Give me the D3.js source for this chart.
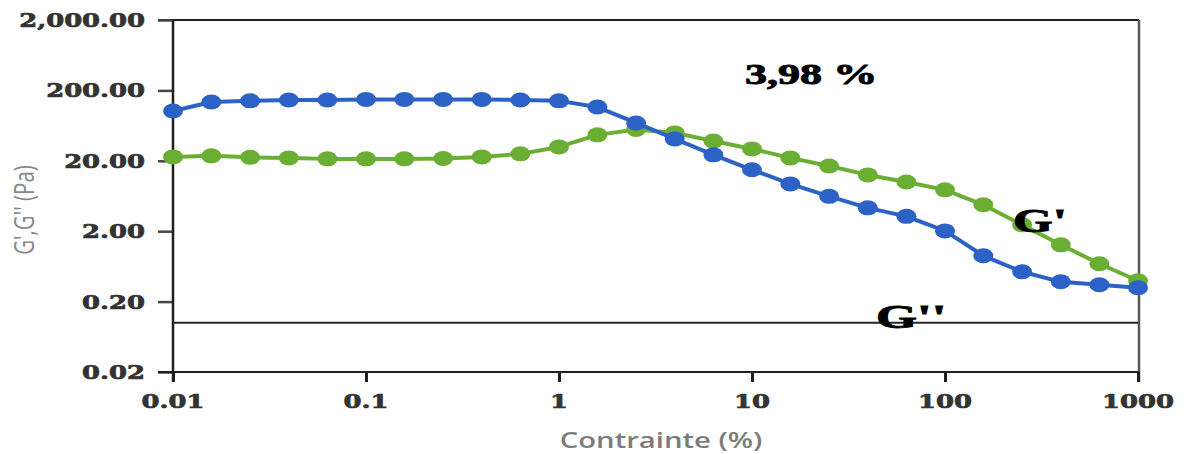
<!DOCTYPE html>
<html>
<head>
<meta charset="utf-8">
<script src="https://cdn.jsdelivr.net/npm/d3@7/dist/d3.min.js"></script>
<style>
  html, body { margin: 0; padding: 0; background: #ffffff; }
  svg { display: block; }
</style>
</head>
<body>
<svg id="chart" width="1187" height="454"></svg>
<script>
// Strain sweep: 26 points, five per decade from 0.01 % to 1000 %
const strain = [0.01, 0.0158, 0.0251, 0.0398, 0.0631, 0.1, 0.158, 0.251, 0.398, 0.631,
                1, 1.58, 2.51, 3.98, 6.31, 10, 15.8, 25.1, 39.8, 63.1,
                100, 158, 251, 398, 631, 1000];

// G' (blue) and G'' (green), Pa
const gPrime = [102, 137, 142, 146, 146, 149, 149, 149, 149, 146,
                142, 116, 69, 40.9, 24.3, 14.9, 9.4, 6.25, 4.29, 3.25,
                2.02, 0.895, 0.53, 0.382, 0.347, 0.314];
const gSecond = [22.7, 23.5, 22.4, 22.0, 21.3, 21.3, 21.3, 21.6, 22.7, 25.1,
                 31.5, 46.7, 55.8, 49.8, 38.3, 29.5, 22.0, 16.9, 12.6, 10.0,
                 7.73, 4.74, 2.46, 1.28, 0.689, 0.395];

// Axis ticks and their printed labels
const xTicks = [0.01, 0.1, 1, 10, 100, 1000];
const xTickLabels = ["0.01", "0.1", "1", "10", "100", "1000"];
const yTicks = [0.02, 0.2, 2, 20, 200, 2000];
const yTickLabels = ["0.02", "0.20", "2.00", "20.00", "200.00", "2,000.00"];

// Horizontal reference level, Pa
const referenceLevel = [0.1];

// Annotations
const strainNote = "3,98 %";
const seriesNames = ["G'", "G''"];

const svg = d3.select("#chart");

const x = d3.scaleLog().domain([0.01, 1000]).range([173, 1138]);
const y = d3.scaleLog().domain([0.02, 2000]).range([372, 20]);

const blue = "#2c62c6";
const green = "#6bae34";
const axisColor = "#231f20";
const serifFont = "'DejaVu Serif', 'Liberation Serif', serif";
const timesFont = "'Liberation Serif', 'Times New Roman', serif";

// Text with a horizontal stretch, as the labels are drawn wide
function wideText(parent, px, py, str, sx) {
  return parent.append("text")
    .attr("transform", `translate(${px},${py}) scale(${sx},1)`)
    .text(str);
}

// Frame: top and right edges
svg.append("line")
  .attr("x1", x(0.01) - 15).attr("x2", x(1000) + 1)
  .attr("y1", y(2000)).attr("y2", y(2000))
  .attr("stroke", axisColor).attr("stroke-width", 2);
svg.append("line")
  .attr("x1", x(1000) + 1).attr("x2", x(1000) + 1)
  .attr("y1", y(2000)).attr("y2", y(0.02) + 10)
  .attr("stroke", "#5a5557").attr("stroke-width", 2.5);

// Y axis
const yAxis = d3.axisLeft(y).tickValues(yTicks).tickSize(15).tickFormat("");
const gy = svg.append("g").attr("transform", `translate(${x(0.01)},0)`).call(yAxis);
gy.select(".domain").remove();
gy.selectAll(".tick line").attr("stroke", "#4a4546").attr("stroke-width", 2.5);
svg.append("line")
  .attr("x1", x(0.01)).attr("x2", x(0.01))
  .attr("y1", y(2000)).attr("y2", y(0.02) + 10)
  .attr("stroke", axisColor).attr("stroke-width", 2.5);

const yLabelG = svg.append("g")
  .attr("font-family", serifFont).attr("font-weight", "bold")
  .attr("font-size", 19).attr("fill", "#333333")
  .attr("stroke", "#333333").attr("stroke-width", 0.7)
  .attr("text-anchor", "end");
yTicks.forEach((t, i) => wideText(yLabelG, 145, y(t) + 7, yTickLabels[i], 1.36));

// X axis
const xAxis = d3.axisBottom(x).tickValues(xTicks).tickSize(10).tickFormat("");
const gx = svg.append("g").attr("transform", `translate(0,${y(0.02)})`).call(xAxis);
gx.select(".domain").remove();
gx.selectAll(".tick line").attr("stroke", axisColor).attr("stroke-width", 3);
svg.append("line")
  .attr("x1", x(0.01) - 15).attr("x2", x(1000) + 1)
  .attr("y1", y(0.02)).attr("y2", y(0.02))
  .attr("stroke", axisColor).attr("stroke-width", 2);

const xLabelG = svg.append("g")
  .attr("font-family", serifFont).attr("font-weight", "bold")
  .attr("font-size", 19).attr("fill", "#333333")
  .attr("stroke", "#333333").attr("stroke-width", 0.7)
  .attr("text-anchor", "middle");
xTicks.forEach((t, i) => wideText(xLabelG, x(t), 408, xTickLabels[i], 1.36));

// Axis titles
svg.append("text")
  .attr("transform", "translate(661,448) scale(1.33,1)")
  .attr("text-anchor", "middle")
  .attr("font-family", "'Open Sans', sans-serif").attr("font-weight", 600)
  .attr("font-size", 22).attr("fill", "#7c7c7c")
  .text("Contrainte (%)");
svg.append("text")
  .attr("transform", "translate(34,210) rotate(-90) scale(1,1.3)")
  .attr("text-anchor", "middle")
  .attr("font-family", "'Open Sans', sans-serif")
  .attr("font-size", 20.5).attr("fill", "#888888")
  .text("G',G'' (Pa)");

// Reference level line
svg.selectAll("line.ref").data(referenceLevel).enter().append("line")
  .attr("class", "ref")
  .attr("x1", x(0.01)).attr("x2", x(1000))
  .attr("y1", d => y(d)).attr("y2", d => y(d))
  .attr("stroke", "#2a2526").attr("stroke-width", 2);

// Series
const line = d3.line().x(d => x(d[0])).y(d => y(d[1]));
function drawSeries(values, color) {
  const pts = strain.map((s, i) => [s, values[i]]);
  svg.append("path").datum(pts)
    .attr("d", line).attr("fill", "none")
    .attr("stroke", color).attr("stroke-width", 4).attr("stroke-linejoin", "round");
  svg.append("g").selectAll("ellipse").data(pts).enter().append("ellipse")
    .attr("cx", d => x(d[0])).attr("cy", d => y(d[1]))
    .attr("rx", 10).attr("ry", 7.5)
    .attr("fill", color);
}
drawSeries(gSecond, green);
drawSeries(gPrime, blue);

// Annotations
const noteG = svg.append("g")
  .attr("font-family", timesFont).attr("font-weight", "bold")
  .attr("fill", "#000000").attr("stroke", "#000000").attr("stroke-width", 0.9);
wideText(noteG, 745, 84, strainNote, 1.47).attr("font-size", 30);
wideText(noteG, 1013, 232, seriesNames[0], 1.55).attr("font-size", 33);
wideText(noteG, 876, 328, seriesNames[1], 1.6).attr("font-size", 33);
</script>
</body>
</html>
